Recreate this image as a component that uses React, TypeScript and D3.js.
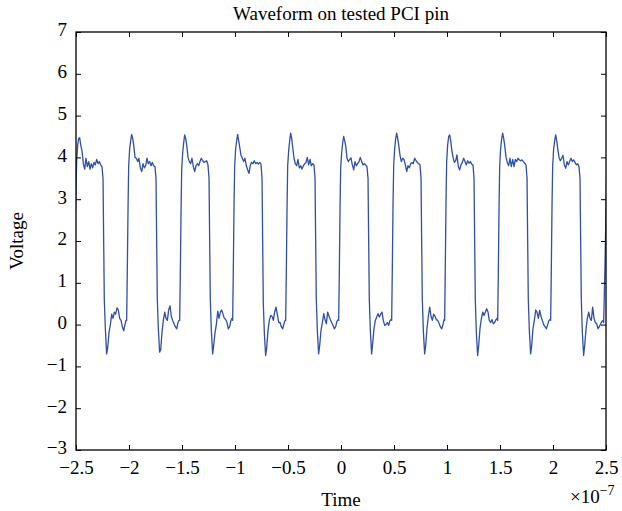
import { useEffect, useRef } from 'react';
import * as d3 from 'd3';

// time in units of 1e-7 s
const xTicks = [-2.5, -2, -1.5, -1, -0.5, 0, 0.5, 1, 1.5, 2, 2.5];
const yTicks = [-3, -2, -1, 0, 1, 2, 3, 4, 5, 6, 7];

// start of each rising edge
const risingEdges = [-2.522, -2.022, -1.522, -1.022, -0.522, -0.022, 0.478, 0.978, 1.478, 1.978, 2.478];

// sample positions within one clock cycle, measured from the rising edge
const phaseOffsets = [
  0, 0.006, 0.013, 0.019, 0.028, 0.038, 0.047, 0.057, 0.066, 0.079, 0.091, 0.104, 0.116, 0.129, 0.142,
  0.154, 0.167, 0.179, 0.192, 0.204, 0.217, 0.23, 0.242, 0.255, 0.267, 0.277, 0.283, 0.289, 0.299, 0.311,
  0.321, 0.333, 0.346, 0.359, 0.371, 0.384, 0.396, 0.409, 0.421, 0.434, 0.447, 0.459, 0.472, 0.484, 0.494,
];

const cycle0 = [
  0.1, 1.0, 2.2, 2.9, 3.9, 4.3, 4.45, 4.47, 4.3, 4.15, 3.85, 3.72, 3.98, 3.78, 3.9,
  3.72, 3.85, 3.75, 3.88, 3.82, 3.95, 3.85, 3.9, 3.82, 3.78, 3.5, 2.0, 0.6, -0.1, -0.7,
  -0.55, -0.2, 0.0, 0.25, 0.15, 0.3, 0.25, 0.4, 0.35, 0.15, 0.1, -0.05, -0.15, 0.0, 0.1,
];
const cycle1 = [
  0.1, 1.3, 2.8, 3.8, 4.2, 4.4, 4.55, 4.45, 4.3, 4.0, 3.98, 3.9, 3.98, 3.75, 3.66,
  3.85, 3.75, 3.8, 3.98, 3.85, 3.9, 3.8, 3.88, 3.8, 3.78, 3.5, 2.0, 0.6, -0.1, -0.66,
  -0.6, -0.2, 0.1, 0.3, 0.15, 0.1, 0.35, 0.45, 0.2, 0.1, 0.02, -0.05, -0.1, 0.05, 0.1,
];
const cycle2 = [
  0.1, 1.2, 2.7, 3.7, 4.1, 4.35, 4.54, 4.45, 4.3, 4.0, 3.9, 3.85, 3.98, 3.78, 3.66,
  3.8, 3.85, 3.8, 3.9, 3.98, 3.92, 3.88, 3.9, 3.92, 3.82, 3.5, 2.0, 0.6, -0.15, -0.7,
  -0.5, -0.2, 0.0, 0.32, 0.15, 0.3, 0.35, 0.25, 0.15, 0.12, 0.05, -0.1, -0.05, 0.1, 0.15,
];
const cycle3 = [
  0.1, 1.3, 2.9, 3.8, 4.2, 4.4, 4.55, 4.4, 4.25, 4.05, 3.98, 3.9, 3.98, 3.8, 3.7,
  3.62, 3.82, 3.88, 3.85, 3.92, 3.85, 3.88, 3.84, 3.88, 3.84, 3.5, 2.0, 0.5, -0.2, -0.74,
  -0.55, -0.15, 0.1, 0.22, 0.2, 0.1, 0.3, 0.42, 0.25, 0.05, 0.05, -0.05, -0.1, 0.02, 0.1,
];
const cycle4 = [
  0.1, 1.2, 2.8, 3.8, 4.15, 4.4, 4.58, 4.45, 4.25, 3.98, 3.85, 3.8, 3.95, 3.75, 3.8,
  3.72, 3.8, 3.85, 3.88, 4.0, 3.82, 3.95, 3.8, 3.85, 3.82, 3.5, 2.0, 0.6, -0.15, -0.7,
  -0.5, -0.15, 0.05, 0.26, 0.12, 0.02, 0.3, 0.2, 0.12, 0.05, -0.02, -0.1, -0.05, 0.08, 0.12,
];
const cycle5 = [
  0.1, 1.2, 2.8, 3.75, 4.1, 4.35, 4.5, 4.4, 4.28, 3.98, 3.9, 3.95, 3.99, 3.82, 3.7,
  3.9, 3.8, 3.85, 3.9, 4.0, 3.9, 3.82, 3.85, 3.82, 3.78, 3.5, 2.0, 0.6, -0.15, -0.7,
  -0.45, -0.1, 0.1, 0.18, 0.26, 0.18, 0.25, 0.3, 0.1, -0.02, 0.0, 0.05, -0.02, 0.1, 0.12,
];
const cycle6 = [
  0.1, 1.3, 2.9, 3.8, 4.2, 4.45, 4.58, 4.45, 4.3, 4.05, 3.9, 3.98, 3.95, 3.82, 3.66,
  3.8, 3.75, 3.85, 3.88, 3.85, 3.98, 3.92, 3.88, 3.85, 3.82, 3.5, 2.0, 0.6, -0.15, -0.7,
  -0.5, -0.1, 0.2, 0.42, 0.2, 0.1, 0.25, 0.2, 0.12, 0.1, 0.03, -0.05, -0.1, 0.0, 0.12,
];
const cycle7 = [
  0.1, 1.4, 3.0, 3.9, 4.3, 4.5, 4.54, 4.4, 4.2, 4.0, 3.88, 3.92, 4.06, 3.78, 3.7,
  3.82, 3.88, 3.98, 3.9, 3.82, 3.92, 3.86, 3.9, 3.84, 3.82, 3.5, 2.0, 0.6, -0.2, -0.74,
  -0.5, -0.1, 0.14, 0.3, 0.22, 0.3, 0.38, 0.3, 0.1, 0.05, 0.12, 0.02, 0.05, 0.12, 0.15,
];
const cycle8 = [
  0.1, 1.2, 2.8, 3.8, 4.2, 4.45, 4.58, 4.45, 4.3, 4.0, 3.88, 3.8, 3.98, 3.78, 3.95,
  3.78, 3.95, 3.9, 3.98, 3.94, 3.92, 3.94, 3.9, 3.86, 3.82, 3.5, 2.0, 0.6, -0.15, -0.7,
  -0.5, -0.1, 0.1, 0.35, 0.3, 0.15, 0.34, 0.2, 0.1, 0.0, -0.05, -0.1, 0.0, 0.1, 0.12,
];
const cycle9 = [
  0.1, 1.3, 2.9, 3.8, 4.2, 4.4, 4.54, 4.4, 4.22, 4.0, 3.92, 3.98, 4.05, 3.82, 3.74,
  3.9, 3.82, 3.9, 3.98, 3.9, 3.94, 3.88, 3.82, 3.85, 3.78, 3.5, 2.0, 0.6, -0.2, -0.74,
  -0.5, -0.12, 0.15, 0.3, 0.15, 0.1, 0.42, 0.15, 0.05, 0.02, -0.1, -0.05, 0.02, 0.08, 0.1,
];
// last edge, cut off by the right axis
const cycle10 = [0.05, 0.7, 1.5, 2.3, 3.5, 4.2];

const cycles = [cycle0, cycle1, cycle2, cycle3, cycle4, cycle5, cycle6, cycle7, cycle8, cycle9, cycle10];

const fmt = (v: number) => String(v).replace('-', '\u2212');

export default function App() {
  const ref = useRef<SVGSVGElement>(null);

  useEffect(() => {
    const width = 622;
    const height = 511;
    const margin = { top: 32, right: 16, bottom: 61, left: 76 };
    const innerWidth = width - margin.left - margin.right;
    const innerHeight = height - margin.top - margin.bottom;

    const svg = d3.select(ref.current);
    svg.selectAll('*').remove();
    const root = svg.append('g').attr('transform', `translate(${margin.left},${margin.top})`);

    const x = d3.scaleLinear().domain([-2.5, 2.5]).range([0, innerWidth]);
    const y = d3.scaleLinear().domain([-3, 7]).range([innerHeight, 0]);

    const points: [number, number][] = [];
    cycles.forEach((values, i) => {
      values.forEach((v, j) => points.push([risingEdges[i] + phaseOffsets[j], v]));
    });

    root
      .append('clipPath')
      .attr('id', 'plot-clip')
      .append('rect')
      .attr('width', innerWidth)
      .attr('height', innerHeight);

    root
      .append('path')
      .datum(points)
      .attr('clip-path', 'url(#plot-clip)')
      .attr('fill', 'none')
      .attr('stroke', '#2f4fa8')
      .attr('stroke-width', 1.3)
      .attr('stroke-linejoin', 'round')
      .attr('d', d3.line().x((d) => x(d[0])).y((d) => y(d[1])));

    const font = "'Liberation Serif', 'Times New Roman', serif";
    const styleAxis = (axis: any) => {
      axis.selectAll('.domain').remove();
      axis.selectAll('line').attr('stroke', '#000');
      axis.selectAll('text').attr('font-family', font).attr('font-size', 19).attr('fill', '#000');
    };

    root
      .append('g')
      .attr('transform', `translate(0,${innerHeight})`)
      .call(d3.axisBottom(x).tickValues(xTicks).tickSizeInner(-5).tickSizeOuter(0).tickPadding(11).tickFormat((v) => fmt(+v)))
      .call(styleAxis);

    root
      .append('g')
      .call(d3.axisTop(x).tickValues(xTicks).tickSizeInner(-5).tickSizeOuter(0).tickFormat(() => ''))
      .call(styleAxis);

    root
      .append('g')
      .call(d3.axisLeft(y).tickValues(yTicks).tickSizeInner(-5).tickSizeOuter(0).tickPadding(9).tickFormat((v) => fmt(+v)))
      .call(styleAxis)
      .call((axis) => axis.selectAll('text').attr('dy', '0.2em'));

    root
      .append('g')
      .attr('transform', `translate(${innerWidth},0)`)
      .call(d3.axisRight(y).tickValues(yTicks).tickSizeInner(-5).tickSizeOuter(0).tickFormat(() => ''))
      .call(styleAxis);

    root
      .append('rect')
      .attr('width', innerWidth)
      .attr('height', innerHeight)
      .attr('fill', 'none')
      .attr('stroke', '#000')
      .attr('stroke-width', 1.3);

    svg
      .append('text')
      .attr('x', margin.left + innerWidth / 2)
      .attr('y', 20)
      .attr('text-anchor', 'middle')
      .attr('font-family', font)
      .attr('font-size', 19)
      .text('Waveform on tested PCI pin');

    svg
      .append('text')
      .attr('transform', `translate(23,${margin.top + innerHeight / 2}) rotate(-90)`)
      .attr('text-anchor', 'middle')
      .attr('font-family', font)
      .attr('font-size', 19)
      .text('Voltage');

    svg
      .append('text')
      .attr('x', margin.left + innerWidth / 2)
      .attr('y', 506)
      .attr('text-anchor', 'middle')
      .attr('font-family', font)
      .attr('font-size', 19)
      .text('Time');

    const exp = svg
      .append('text')
      .attr('x', 570)
      .attr('y', 503)
      .attr('font-family', font)
      .attr('font-size', 19);
    exp.append('tspan').text('\u00d710');
    exp.append('tspan').attr('dy', -8).attr('font-size', 14).text('\u22127');
  }, []);

  return (
    <svg
      ref={ref}
      width={622}
      height={511}
      style={{ position: 'absolute', left: 0, top: 0, background: '#fff' }}
      role="img"
      aria-label="Waveform on tested PCI pin"
    />
  );
}
